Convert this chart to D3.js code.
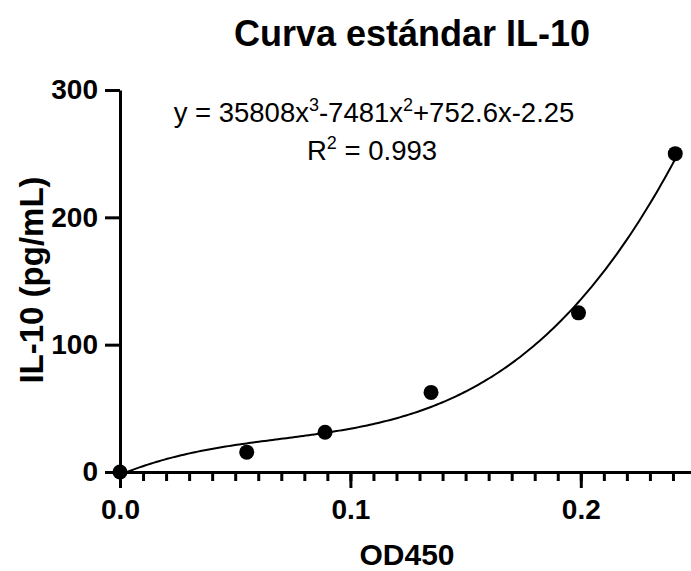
<!DOCTYPE html>
<html>
<head>
<meta charset="utf-8">
<script src="https://cdn.jsdelivr.net/npm/d3@7"></script>
<style>
  body { margin: 0; background: #fff; }
  svg text { font-family: "Liberation Sans", Arial, sans-serif; fill: #000; }
  .axis path, .axis line { stroke: #000; stroke-width: 3; }
</style>
</head>
<body>
<svg id="chart" width="691" height="571"></svg>
<script>
// standard points (OD450 vs concentration)
var od = [0, 0.055, 0.089, 0.135, 0.199, 0.241];
var conc = [0, 15.6, 31.25, 62.5, 125, 250];

// cubic fit shown on the chart: y = a3 x^3 + a2 x^2 + a1 x + a0
var coef = [35808, -7481, 752.6, -2.25];
var xTicks = [0, 0.1, 0.2];
var yTicks = [0, 100, 200, 300];

var svg = d3.select("#chart");

var x = d3.scaleLinear().domain([0, 0.25]).range([120, 696]);
var y = d3.scaleLinear().domain([0, 300]).range([472, 90]);

// minor x ticks every 0.01
svg.append("g")
  .attr("class", "axis")
  .attr("transform", "translate(0," + y(0) + ")")
  .call(d3.axisBottom(x).tickValues(d3.range(1, 25).map(function(i) { return i / 100; }))
    .tickSize(9).tickSizeOuter(0).tickFormat(""))
  .call(function(g) { g.select(".domain").remove(); });

// major x axis
svg.append("g")
  .attr("class", "axis")
  .attr("transform", "translate(0," + y(0) + ")")
  .call(d3.axisBottom(x).tickValues(xTicks).tickSize(16).tickSizeOuter(0)
    .tickPadding(11).tickFormat(d3.format(".1f")))
  .call(function(g) {
    g.selectAll("text").style("font-size", "28px").style("font-weight", "bold");
  });

// y axis
svg.append("g")
  .attr("class", "axis")
  .attr("transform", "translate(" + x(0) + ",0)")
  .call(d3.axisLeft(y).tickValues(yTicks).tickSize(15).tickSizeOuter(0)
    .tickPadding(7).tickFormat(d3.format("d")))
  .call(function(g) {
    g.selectAll("text").style("font-size", "28px").style("font-weight", "bold");
  });

// fit curve
var fit = function(v) {
  return coef[0] * v * v * v + coef[1] * v * v + coef[2] * v + coef[3];
};
var xs = d3.range(0, 201).map(function(i) { return od[od.length - 1] * i / 200; });
svg.append("path")
  .datum(xs)
  .attr("fill", "none")
  .attr("stroke", "#000")
  .attr("stroke-width", 2)
  .attr("d", d3.line().x(function(d) { return x(d); }).y(function(d) { return y(fit(d)); }));

// points
svg.append("g").selectAll("circle")
  .data(od)
  .enter().append("circle")
  .attr("cx", function(d) { return x(d); })
  .attr("cy", function(d, i) { return y(conc[i]); })
  .attr("r", 7.5)
  .attr("fill", "#000");

// titles
svg.append("text")
  .attr("x", 412).attr("y", 46)
  .attr("text-anchor", "middle")
  .style("font-size", "36px").style("font-weight", "bold")
  .text("Curva estándar IL-10");

svg.append("text")
  .attr("x", 407).attr("y", 565)
  .attr("text-anchor", "middle")
  .style("font-size", "30px").style("font-weight", "bold")
  .text("OD450");

svg.append("text")
  .attr("transform", "translate(43,280) rotate(-90)")
  .attr("text-anchor", "middle")
  .style("font-size", "33px").style("font-weight", "bold")
  .text("IL-10 (pg/mL)");

// equation
var eq = svg.append("text")
  .attr("x", 374).attr("y", 122)
  .attr("text-anchor", "middle")
  .style("font-size", "27.5px");
eq.append("tspan").text("y = 35808x");
eq.append("tspan").attr("dy", -11).style("font-size", "18px").text("3");
eq.append("tspan").attr("dy", 11).text("-7481x");
eq.append("tspan").attr("dy", -11).style("font-size", "18px").text("2");
eq.append("tspan").attr("dy", 11).text("+752.6x-2.25");

var r2 = svg.append("text")
  .attr("x", 372).attr("y", 160)
  .attr("text-anchor", "middle")
  .style("font-size", "27.5px");
r2.append("tspan").text("R");
r2.append("tspan").attr("dy", -11).style("font-size", "18px").text("2");
r2.append("tspan").attr("dy", 11).text(" = 0.993");
</script>
</body>
</html>
